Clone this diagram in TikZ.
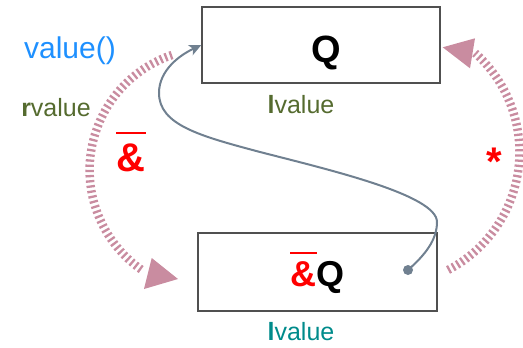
\documentclass[tikz,border=0pt]{standalone}
\usepackage{fontspec}
\setmainfont{Liberation Sans}
\usetikzlibrary{arrows.meta}
\definecolor{mauve}{RGB}{201,140,160}
\definecolor{slate}{RGB}{112,128,144}
\definecolor{vblue}{RGB}{30,144,255}
\definecolor{olivec}{RGB}{85,107,47}
\definecolor{tealc}{RGB}{0,139,139}
\definecolor{boxgray}{RGB}{80,80,80}
\tikzset{
  box/.style={draw=boxgray, line width=1.3pt, inner sep=0pt},
  lbl/.style={font=\fontsize{25}{30}\selectfont, anchor=base, inner sep=0pt},
  ring/.style={mauve, line width=8.5pt, dash pattern=on 2.3pt off 2.9pt},
  tipfill/.style={fill=mauve, draw=none},
  link/.style={slate, line width=2pt, -{Stealth[length=12pt,width=11pt,inset=3pt]}},
  bar/.style={red, line width=2.3pt}
}
\begin{document}
\begin{tikzpicture}[x=1pt,y=-1pt]
\useasboundingbox (0,0) rectangle (523,348);
% boxes
\node[box, minimum width=238pt, minimum height=76pt] (top) at (321,45) {};
\node[box, minimum width=239pt, minimum height=78pt] (bot) at (317.5,272) {};
% box texts
\node[anchor=base, inner sep=0pt, font=\fontsize{38}{40}\selectfont\bfseries] (q) at (326,63) {Q};
\node[anchor=base, inner sep=0pt, font=\fontsize{36}{40}\selectfont\bfseries] (aq) at (317.5,286) {\textcolor{red}{\&}Q};
\coordinate (bar2l) at (290,252.7);
\coordinate (bar2r) at (316.7,252.7);
\draw[bar] (bar2l) -- (bar2r);
% labels
\node[lbl, text=vblue, font=\fontsize{30}{34}\selectfont] (val) at (70,59) {value()};
\node[lbl, text=olivec] (rv) at (56,116.7) {\textbf{r}value};
\node[lbl, text=olivec] (lv1) at (301,113) {\textbf{l}value};
\node[lbl, text=tealc] (lv2) at (301,340) {\textbf{l}value};
\node[anchor=base, inner sep=0pt, text=red, font=\fontsize{40}{44}\selectfont\bfseries] (amp) at (131,171.7) {\&};
\coordinate (bar1l) at (116,133.3);
\coordinate (bar1r) at (146,133.3);
\draw[bar] (bar1l) -- (bar1r);
\node[inner sep=0pt, text=red, font=\fontsize{40}{44}\selectfont\bfseries] (star) at (494,162) {*};
% left dashed arc with arrow
\draw[ring] plot[domain=251.2:124.7, samples=90] ({211.2+121.6*cos(\x)},{170.1+121.6*sin(\x)});
\coordinate (lt1) at (178,279);
\coordinate (lt2) at (151.7,258);
\coordinate (lt3) at (144,289);
\fill[tipfill] (lt1) -- (lt2) -- (lt3) -- cycle;
% right dashed arc with arrow
\draw[ring] plot[domain=62.5:-48.3, samples=90] ({386.7+132.8*cos(\x)},{152.2+132.8*sin(\x)});
\coordinate (rt1) at (442.7,47.3);
\coordinate (rt2) at (475,38.3);
\coordinate (rt3) at (470,68.3);
\fill[tipfill] (rt1) -- (rt2) -- (rt3) -- cycle;
% connector
\coordinate (dot) at (408,270);
\fill[slate] (dot) circle (5);
\draw[link] (dot) .. controls (425,255) and (437,240) .. (437,222)
  .. controls (437,195) and (330,170) .. (260,152)
  .. controls (200,136) and (159,125) .. (159,93)
  .. controls (159,70) and (180,55) .. (top.west);
\end{tikzpicture}
\end{document}
